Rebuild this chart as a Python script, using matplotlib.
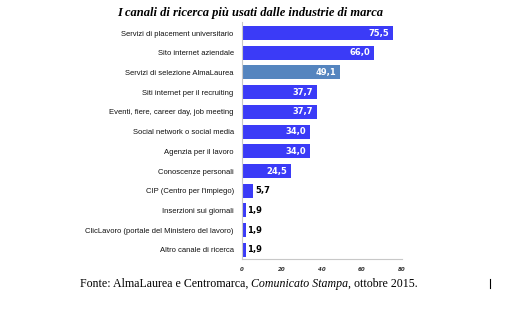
import matplotlib
matplotlib.use("Agg")
import matplotlib.pyplot as plt
from matplotlib.lines import Line2D

categories = [
    "Servizi di placement universitario",
    "Sito internet aziendale",
    "Servizi di selezione AlmaLaurea",
    "Siti internet per il recruiting",
    "Eventi, fiere, career day, job meeting",
    "Social network o social media",
    "Agenzia per il lavoro",
    "Conoscenze personali",
    "CIP (Centro per l'impiego)",
    "Inserzioni sui giornali",
    "ClicLavoro (portale del Ministero del lavoro)",
    "Altro canale di ricerca",
]
values = [75.5, 66.0, 49.1, 37.7, 37.7, 34.0, 34.0, 24.5, 5.7, 1.9, 1.9, 1.9]
x_ticks = [0, 20, 40, 60, 80]

title = "I canali di ricerca più usati dalle industrie di marca"

BLUE = "#3b3bf7"
HIGHLIGHT = "#5585bf"

fig = plt.figure(figsize=(5.11, 3.22), dpi=100)
ax = fig.add_axes([242 / 511, 1 - 259 / 322, 160 / 511, 237 / 322])

colors = [HIGHLIGHT if "AlmaLaurea" in c else BLUE for c in categories]
ypos = list(range(len(categories)))
bars = ax.barh(ypos, values, height=0.71, color=colors, edgecolor="none")

ax.set_xlim(0, 80)
ax.set_ylim(len(categories) - 0.54, -0.56)
ax.set_xticks(x_ticks)
ax.set_xticklabels([str(t) for t in x_ticks], fontsize=4, fontstyle="italic",
                   fontweight="bold", color="#333333")
ax.tick_params(axis="x", length=0, pad=6)
ax.set_yticks(ypos)
ax.set_yticklabels(categories, fontsize=5.5, family="Liberation Sans", color="#111111")
ax.tick_params(axis="y", length=0, pad=6)

for side in ("top", "right"):
    ax.spines[side].set_visible(False)
for side in ("left", "bottom"):
    ax.spines[side].set_color("#c8c8c8")
    ax.spines[side].set_linewidth(0.8)

for bar, v in zip(bars, values):
    txt = f"{v:.1f}".replace(".", ",")
    yc = bar.get_y() + bar.get_height() / 2
    if v > 15:
        ax.text(v - 2, yc, txt, ha="right", va="center", color="white",
                fontsize=6, fontweight="bold")
    else:
        ax.text(v + 0.8, yc, txt, ha="left", va="center", color="black",
                fontsize=6, fontweight="bold")

fig.text(250 / 511, 1 - 13 / 322, title, ha="center", va="center",
         family="Liberation Serif", fontsize=9, fontweight="bold", fontstyle="italic")

# Source line with the italic publication title in the middle
src_font = dict(family="Liberation Serif", fontsize=8.6)
t1 = fig.text(80 / 511, 1 - 290 / 322, "Fonte: AlmaLaurea e Centromarca, ",
              va="bottom", ha="left", **src_font)
t2 = ax.annotate("Comunicato Stampa", xy=(1, 0), xycoords=t1, va="bottom", ha="left",
                 fontstyle="italic", annotation_clip=False, **src_font)
t3 = ax.annotate(", ottobre 2015.", xy=(1, 0), xycoords=t2, va="bottom", ha="left",
                 annotation_clip=False, **src_font)

fig.add_artist(Line2D([490 / 511, 490 / 511], [1 - 288 / 322, 1 - 279 / 322],
                      transform=fig.transFigure, color="black", linewidth=0.8))

fig.savefig("out.png", dpi=100, facecolor="white")
